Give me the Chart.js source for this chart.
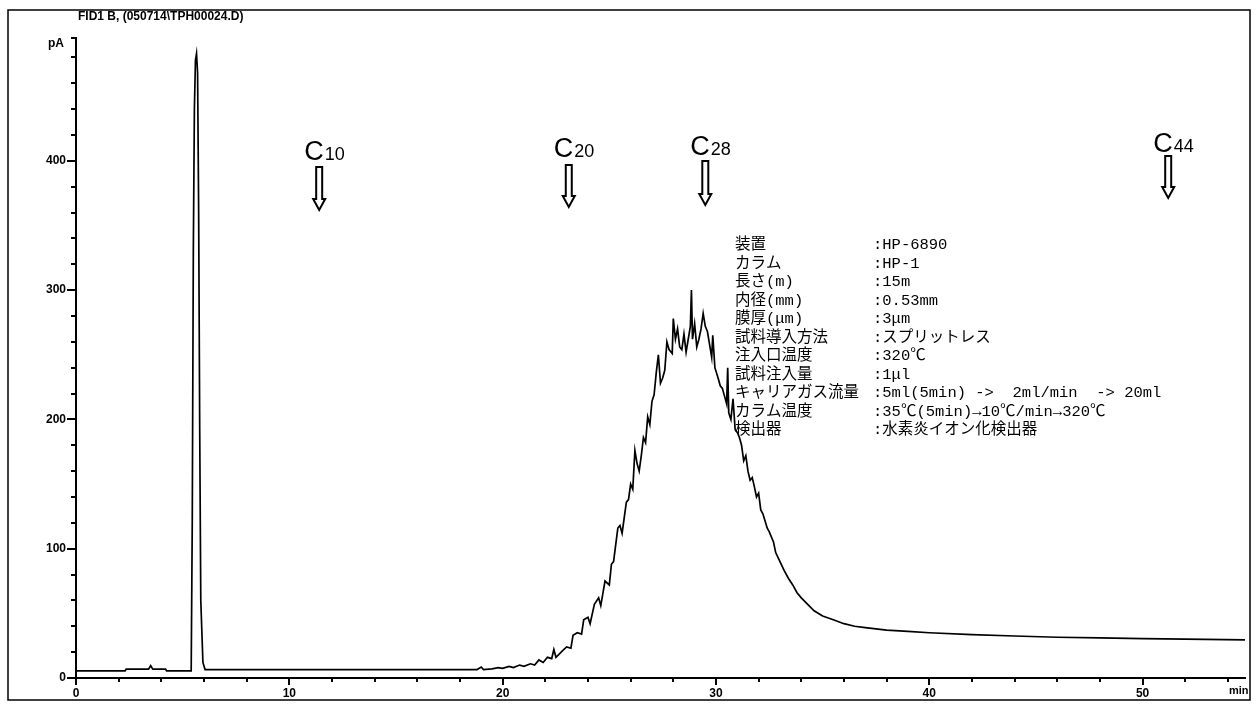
<!DOCTYPE html>
<html>
<head>
<meta charset="utf-8">
<script src="https://cdn.jsdelivr.net/npm/chart.js@4.4.1/dist/chart.umd.min.js"></script>
<style>
  html, body { margin: 0; padding: 0; background: #fff; }
  #wrap { width: 1256px; height: 704px; position: relative; }
</style>
</head>
<body>
<div id="wrap"><canvas id="gc" width="1256" height="704"></canvas></div>
<script>
// FID signal (pA) against retention time (min)
const retentionTimes = [
  0, 2.3, 2.35, 3.4, 3.5, 3.6, 4.2, 4.25, 5.4, 5.45, 5.5, 5.55, 5.6, 5.65, 5.7, 5.75, 5.8, 5.85, 5.95, 6.05,
  18.8, 19.0, 19.1, 19.5, 19.8, 20.0, 20.3, 20.5, 20.8, 21.0, 21.3, 21.5, 21.7, 21.9, 22.1, 22.3, 22.4, 22.5, 22.8,
  23.0, 23.2, 23.3, 23.5, 23.7, 23.8, 24.0, 24.1, 24.3, 24.5, 24.6, 24.8, 25.0, 25.1, 25.2, 25.4, 25.5, 25.6, 25.8,
  25.9, 26.0, 26.1, 26.2, 26.3, 26.4, 26.5, 26.6, 26.7, 26.8, 26.9, 27.0, 27.1, 27.2, 27.3, 27.4, 27.5, 27.6, 27.7,
  27.8, 27.95, 28.0, 28.1, 28.2, 28.3, 28.4, 28.5, 28.6, 28.7, 28.8, 28.85, 28.9, 29.0, 29.1, 29.2, 29.3, 29.4, 29.5,
  29.6, 29.7, 29.8, 29.85, 29.95, 30.1, 30.2, 30.3, 30.4, 30.5, 30.55, 30.6, 30.7, 30.8, 30.9, 31.0, 31.1, 31.2,
  31.3, 31.4, 31.5, 31.6, 31.7, 31.8, 31.9, 32.0, 32.1, 32.2, 32.4, 32.5, 32.7, 32.8, 33.0, 33.2, 33.4, 33.6, 33.8,
  34.0, 34.3, 34.6, 35.0, 35.5, 36.0, 36.5, 37.0, 38.0, 39.0, 40.0, 42.0, 44.0, 46.0, 48.0, 50.0, 52.0, 54.8
];
const signalPA = [
  5.5, 5.5, 6.8, 6.8, 9.5, 6.8, 6.8, 5.5, 5.5, 120, 330, 440, 478, 483, 468, 360, 190, 60, 12, 6.5,
  6.5, 8.5, 6.5, 7, 8, 7.5, 9, 8, 10, 9, 11, 10, 14, 12, 16, 15, 22, 16, 21,
  24, 23, 33, 35, 34, 45, 47, 42, 57, 62, 56, 75, 72, 88, 90, 116, 118, 112, 136,
  138, 150, 146, 176, 166, 160, 172, 186, 182, 202, 196, 214, 219, 236, 250, 228, 232, 238, 260,
  254, 251, 278, 262, 270, 256, 254, 266, 252, 262, 272, 300, 262, 274, 256, 262, 270, 282, 272,
  268, 258, 248, 265, 240, 232, 226, 224, 218, 212, 240, 205, 200, 216, 192, 190, 186, 180,
  168, 172, 160, 153, 155, 148, 140, 143, 130, 127, 116, 113, 105, 97, 90, 83, 77, 72, 66,
  62, 57, 52, 48, 45, 42, 40, 39, 37, 36, 35, 33.5, 32.5, 31.5, 31, 30.5, 30, 29.5
];

// axis tick values
const xMajorTicks = [0, 10, 20, 30, 40, 50];
const yMajorTicks = [0, 100, 200, 300, 400];
const xMinorStep = 2;
const yMinorStep = 20;

// n-alkane retention markers
const alkaneNames = ['10', '20', '28', '44'];
const alkaneTimes = [11.4, 23.1, 29.5, 51.2];

// instrument conditions
const conditionLabels = ['装置', 'カラム', '長さ(m)', '内径(mm)', '膜厚(μm)', '試料導入方法', '注入口温度', '試料注入量', 'キャリアガス流量', 'カラム温度', '検出器'];
const conditionValues = [':HP-6890', ':HP-1', ':15m', ':0.53mm', ':3μm', ':スプリットレス', ':320℃', ':1μl', ':5ml(5min) ->  2ml/min  -> 20ml', ':35℃(5min)→10℃/min→320℃', ':水素炎イオン化検出器'];

const headerText = 'FID1 B, (050714\\TPH00024.D)';

const tickFont = { family: "'Liberation Sans Narrow', 'Liberation Sans', Arial, sans-serif", size: 12, weight: 'bold' };

function drawHollowArrow(ctx, x, yTop, yTip) {
  const shaft = 3, head = 6, headH = 11;
  ctx.beginPath();
  ctx.moveTo(x - shaft, yTop);
  ctx.lineTo(x + shaft, yTop);
  ctx.lineTo(x + shaft, yTip - headH);
  ctx.lineTo(x + head, yTip - headH);
  ctx.lineTo(x, yTip);
  ctx.lineTo(x - head, yTip - headH);
  ctx.lineTo(x - shaft, yTip - headH);
  ctx.closePath();
  ctx.fillStyle = '#fff';
  ctx.fill();
  ctx.lineWidth = 2;
  ctx.strokeStyle = '#000';
  ctx.stroke();
}

const decorPlugin = {
  id: 'decor',
  afterDraw(chart) {
    const ctx = chart.ctx;
    const xs = chart.scales.x, ys = chart.scales.y;
    const area = chart.chartArea;
    ctx.save();

    // minor ticks
    ctx.strokeStyle = '#000';
    ctx.lineWidth = 2;
    for (let v = 0; v <= ys.max; v += yMinorStep) {
      if (v % 100 === 0) continue;
      const py = Math.round(ys.getPixelForValue(v));
      ctx.beginPath();
      ctx.moveTo(area.left - 5, py);
      ctx.lineTo(area.left, py);
      ctx.stroke();
    }
    for (let v = 0; v <= xs.max; v += xMinorStep) {
      if (v % 10 === 0) continue;
      const px = Math.round(xs.getPixelForValue(v));
      ctx.beginPath();
      ctx.moveTo(px, area.bottom);
      ctx.lineTo(px, area.bottom + 4);
      ctx.stroke();
    }
    // axis top stub
    ctx.beginPath();
    ctx.moveTo(area.left - 5, area.top);
    ctx.lineTo(area.left, area.top);
    ctx.stroke();

    // header and units
    ctx.fillStyle = '#000';
    ctx.font = "bold 12px 'Liberation Sans Narrow', 'Liberation Sans', Arial, sans-serif";
    ctx.textBaseline = 'middle';
    ctx.textAlign = 'left';
    ctx.fillText(headerText, 78, 17);
    ctx.fillText('pA', 48, 44);
    ctx.font = "bold 11px 'Liberation Sans Narrow', 'Liberation Sans', Arial, sans-serif";
    ctx.fillText('min', 1229, 691);

    // alkane markers
    const arrowTop = [167, 165, 161, 156];
    const arrowTip = [210, 207, 205, 198];
    const labelY = [150, 147, 145, 142];
    alkaneNames.forEach((n, i) => {
      const px = xs.getPixelForValue(alkaneTimes[i]);
      ctx.fillStyle = '#000';
      ctx.textAlign = 'left';
      ctx.textBaseline = 'alphabetic';
      ctx.font = "27px 'Liberation Sans', Arial, sans-serif";
      const cx = px - 15;
      ctx.fillText('C', cx, labelY[i] + 10);
      const cw = ctx.measureText('C').width;
      ctx.font = "18px 'Liberation Sans', Arial, sans-serif";
      ctx.fillText(n, cx + cw + 1, labelY[i] + 10);
      drawHollowArrow(ctx, px, arrowTop[i], arrowTip[i]);
    });

    // conditions table
    ctx.fillStyle = '#000';
    ctx.textBaseline = 'middle';
    ctx.textAlign = 'left';
    ctx.font = "15.5px 'Liberation Mono', 'Noto Sans CJK JP', monospace";
    conditionLabels.forEach((lab, i) => {
      const y = 245 + i * 18.5;
      ctx.fillText(lab, 735, y);
      ctx.fillText(conditionValues[i], 873, y);
    });

    // outer frame
    ctx.strokeStyle = '#000';
    ctx.lineWidth = 1.5;
    ctx.strokeRect(8, 10, 1242, 690);
    ctx.restore();
  }
};

new Chart(document.getElementById('gc'), {
  type: 'line',
  data: {
    datasets: [{
      data: retentionTimes.map((t, i) => ({ x: t, y: signalPA[i] })),
      borderColor: '#000',
      borderWidth: 1.7,
      pointRadius: 0,
      tension: 0,
      fill: false
    }]
  },
  options: {
    responsive: false,
    animation: false,
    devicePixelRatio: 1,
    layout: { padding: { top: 38, right: 11, left: 0, bottom: 0 } },
    plugins: { legend: { display: false }, tooltip: { enabled: false } },
    scales: {
      x: {
        type: 'linear',
        min: 0,
        max: 54.8,
        afterBuildTicks: s => { s.ticks = xMajorTicks.map(v => ({ value: v })); },
        afterFit: s => { s.height = 26; },
        ticks: { color: '#000', font: tickFont, padding: 1, maxRotation: 0, autoSkip: false },
        grid: { drawOnChartArea: false, drawTicks: true, tickLength: 7, color: '#000', lineWidth: 2 },
        border: { display: true, color: '#000', width: 2 }
      },
      y: {
        type: 'linear',
        min: 0,
        max: 495,
        afterBuildTicks: s => { s.ticks = yMajorTicks.map(v => ({ value: v })); },
        afterFit: s => { s.width = 76; },
        ticks: { color: '#000', font: tickFont, padding: 1 },
        grid: { drawOnChartArea: false, drawTicks: true, tickLength: 9, color: '#000', lineWidth: 2 },
        border: { display: true, color: '#000', width: 2 }
      }
    }
  },
  plugins: [decorPlugin]
});
</script>
</body>
</html>
